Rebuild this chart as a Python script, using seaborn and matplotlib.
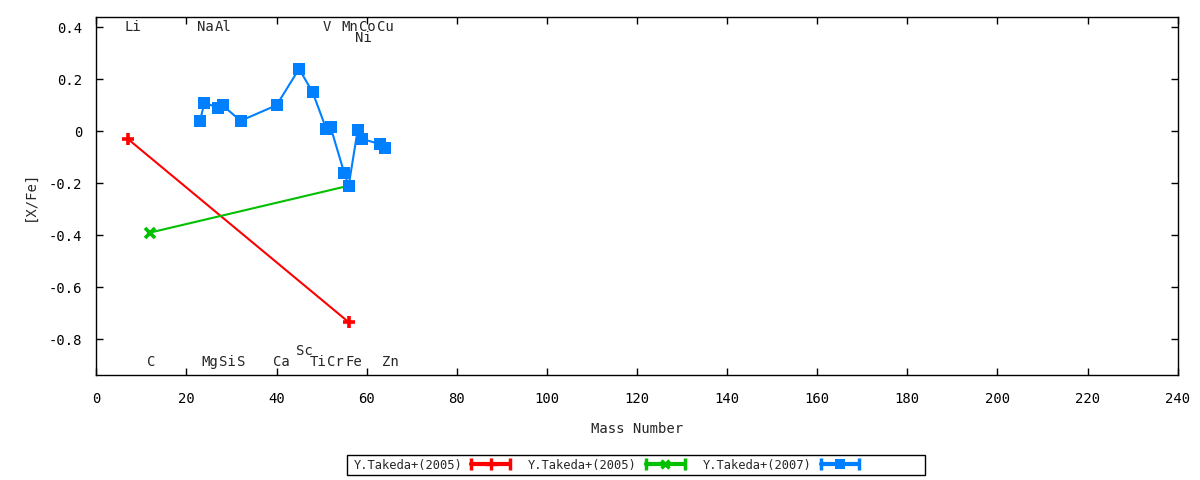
import numpy as np
import pandas as pd
import matplotlib
matplotlib.use('Agg')
import matplotlib.pyplot as plt
import seaborn as sns
from matplotlib.lines import Line2D
from matplotlib.patches import Rectangle
from matplotlib.legend_handler import HandlerLine2D, HandlerTuple

# data: mass number vs [X/Fe]
red_mass = [7, 56]
red_xfe = [-0.03, -0.735]

green_mass = [12, 56]
green_xfe = [-0.39, -0.21]

blue_mass = [23, 24, 27, 28, 32, 40, 45, 48, 51, 52, 55, 56, 58, 59, 63, 64]
blue_xfe = [0.04, 0.11, 0.09, 0.10, 0.04, 0.10, 0.24, 0.15, 0.01, 0.015,
            -0.16, -0.21, 0.005, -0.03, -0.05, -0.065]

series_names = ['Y.Takeda+(2005)', 'Y.Takeda+(2005)', 'Y.Takeda+(2007)']

# element labels
top_elems = ['Li', 'Na', 'Al', 'V', 'Mn', 'Co', 'Cu']
top_mass = [7, 23, 27, 51, 55, 59, 63]
top_low_elems = ['Ni']
top_low_mass = [58]
bot_elems = ['C', 'Mg', 'Si', 'S', 'Ca', 'Ti', 'Cr', 'Fe', 'Zn']
bot_mass = [12, 24, 28, 32, 40, 48, 52, 56, 64]
bot_high_elems = ['Sc']
bot_high_mass = [45]

FS = 10
LFS = 8.7

sns.set_style('ticks')
plt.rcParams['font.family'] = ['DejaVu Sans Mono', 'DejaVu Sans']
plt.rcParams['font.size'] = FS

fig = plt.figure(figsize=(12, 4.8), dpi=100)
ax = fig.add_axes([0.0803, 0.219, 0.9011, 0.745])

RED, GREEN, BLUE = '#ff0000', '#00c000', '#0080ff'

sns.lineplot(x=red_mass, y=red_xfe, ax=ax, color=RED, lw=1.5, marker='+',
             markersize=9, markeredgewidth=2.6, markeredgecolor=RED, sort=False,
             estimator=None, legend=False)
sns.lineplot(x=green_mass, y=green_xfe, ax=ax, color=GREEN, lw=1.5, marker='x',
             markersize=7, markeredgewidth=2.6, markeredgecolor=GREEN, sort=False,
             estimator=None, legend=False)
sns.lineplot(x=blue_mass, y=blue_xfe, ax=ax, color=BLUE, lw=1.5, marker='s',
             markersize=8, markeredgewidth=0, sort=False,
             estimator=None, legend=False)

ax.set_xlim(0, 240)
ax.set_ylim(-0.938, 0.4385)
ax.set_xticks(np.arange(0, 241, 20))
ax.set_yticks([-0.8, -0.6, -0.4, -0.2, 0, 0.2, 0.4])
ax.set_yticklabels(['-0.8', '-0.6', '-0.4', '-0.2', '0', '0.2', '0.4'])
ax.tick_params(direction='in', length=5, width=1, top=True, right=True,
               labelsize=FS, colors='black')
ax.tick_params(axis='x', pad=12)
ax.tick_params(axis='y', pad=10)
for sp in ax.spines.values():
    sp.set_visible(True)
    sp.set_linewidth(1)
    sp.set_color('black')
ax.set_xlabel('Mass Number', labelpad=12)
ax.set_ylabel('[X/Fe]', labelpad=9)
ax.grid(False)

# element names
for name, m in zip(top_elems, top_mass):
    ax.text(m - 0.7, 0.4, name, ha='left', va='center', fontsize=FS)
for name, m in zip(top_low_elems, top_low_mass):
    ax.text(m - 0.7, 0.36, name, ha='left', va='center', fontsize=FS)
for name, m in zip(bot_elems, bot_mass):
    ax.text(m - 0.7, -0.89, name, ha='left', va='center', fontsize=FS)
for name, m in zip(bot_high_elems, bot_high_mass):
    ax.text(m - 0.7, -0.845, name, ha='left', va='center', fontsize=FS)

# gnuplot-like legend samples: line with end caps + marker in the middle
handles, hmap = [], {}
for col, mk, ms, mew in [(RED, '+', 8, 2.4), (GREEN, 'x', 6, 2.4), (BLUE, 's', 7, 0)]:
    caps = Line2D([], [], color=col, lw=3, marker='|', markersize=8, markeredgewidth=2.5)
    mid = Line2D([], [], color=col, lw=0, marker=mk, markersize=ms,
                 markeredgewidth=mew, markeredgecolor=col)
    hmap[caps] = HandlerLine2D(numpoints=2, marker_pad=0.0)
    hmap[mid] = HandlerLine2D(numpoints=1)
    tup = (caps, mid)
    hmap[tup] = HandlerTuple(ndivide=1, pad=0)
    handles.append(tup)

leg = fig.legend(handles, series_names, handler_map=hmap, ncol=3, markerfirst=False,
                 loc='center', bbox_to_anchor=(606.5 / 1200, 1 - 465 / 480),
                 frameon=False, borderpad=0.2, handlelength=3.2,
                 columnspacing=1.5, handletextpad=0.75, fontsize=LFS)

# gnuplot legend box (wider on the right than its contents)
fig.patches.append(Rectangle((347 / 1200, 1 - 475 / 480), 578 / 1200, 20 / 480,
                             transform=fig.transFigure, fill=False,
                             edgecolor='black', linewidth=1))

fig.savefig('out.png', dpi=100)
